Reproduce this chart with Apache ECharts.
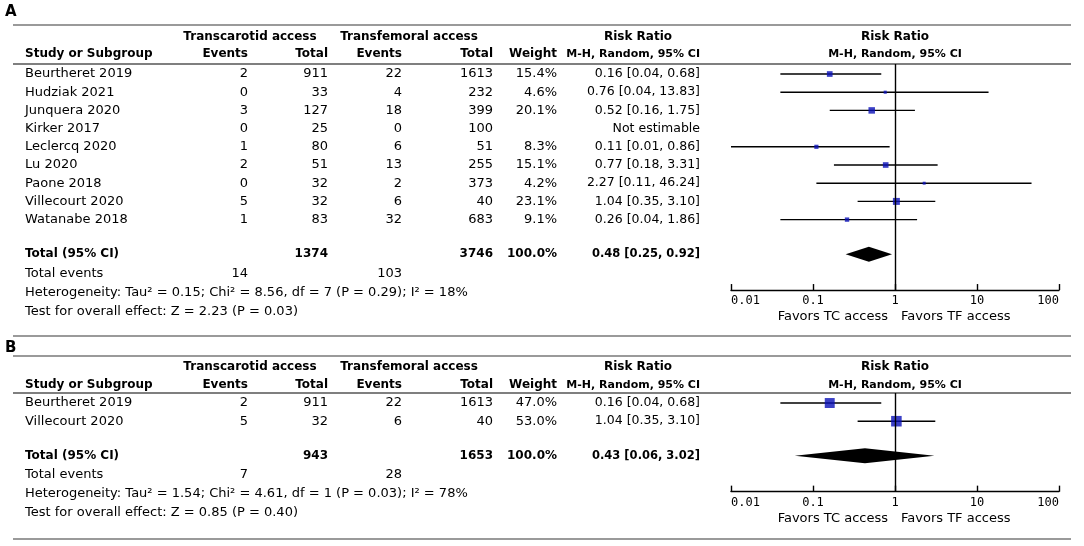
<!DOCTYPE html>
<html>
<head>
<meta charset="utf-8">
<script src="https://cdn.jsdelivr.net/npm/echarts@6/dist/echarts.min.js"></script>
<style>
  html, body { margin: 0; padding: 0; background: #fff; }
  #chart { width: 1084px; height: 546px; }
</style>
</head>
<body>
<div id="chart"></div>
<script>
// panel A - all studies
const studiesA = ['Beurtheret 2019', 'Hudziak 2021', 'Junquera 2020', 'Kirker 2017', 'Leclercq 2020', 'Lu 2020', 'Paone 2018', 'Villecourt 2020', 'Watanabe 2018'];
const tcEventsA = [2, 0, 3, 0, 1, 2, 0, 5, 1];
const tcTotalA = [911, 33, 127, 25, 80, 51, 32, 32, 83];
const tfEventsA = [22, 4, 18, 0, 6, 13, 2, 6, 32];
const tfTotalA = [1613, 232, 399, 100, 51, 255, 373, 40, 683];
const weightA = [15.4, 4.6, 20.1, null, 8.3, 15.1, 4.2, 23.1, 9.1];
const rrA = [0.16, 0.76, 0.52, null, 0.11, 0.77, 2.27, 1.04, 0.26];
const lowA = [0.04, 0.04, 0.16, null, 0.01, 0.18, 0.11, 0.35, 0.04];
const highA = [0.68, 13.83, 1.75, null, 0.86, 3.31, 46.24, 3.10, 1.86];
const pooledA = [0.48, 0.25, 0.92];      // rr, low, high
const totalsA = [1374, 3746];
const totalEventsA = [14, 103];
const hetA = 'Heterogeneity: Tau\u00b2 = 0.15; Chi\u00b2 = 8.56, df = 7 (P = 0.29); I\u00b2 = 18%';
const testA = 'Test for overall effect: Z = 2.23 (P = 0.03)';

// panel B - subset
const studiesB = ['Beurtheret 2019', 'Villecourt 2020'];
const tcEventsB = [2, 5];
const tcTotalB = [911, 32];
const tfEventsB = [22, 6];
const tfTotalB = [1613, 40];
const weightB = [47.0, 53.0];
const rrB = [0.16, 1.04];
const lowB = [0.04, 0.35];
const highB = [0.68, 3.10];
const pooledB = [0.43, 0.06, 3.02];
const totalsB = [943, 1653];
const totalEventsB = [7, 28];
const hetB = 'Heterogeneity: Tau\u00b2 = 1.54; Chi\u00b2 = 4.61, df = 1 (P = 0.03); I\u00b2 = 78%';
const testB = 'Test for overall effect: Z = 0.85 (P = 0.40)';

const tickLabels = ['0.01', '0.1', '1', '10', '100'];
const favorsLabels = ['Favors TC access', 'Favors TF access'];

const FONT = 'DejaVu Sans';
const ROW = 18.2;
const Y_MIN = -0.55;
const chart = echarts.init(document.getElementById('chart'));

function ciText(rr, lo, hi) {
  if (rr == null) return 'Not estimable';
  return rr.toFixed(2) + ' [' + lo.toFixed(2) + ', ' + hi.toFixed(2) + ']';
}

function forestSeries(k, rr, lo, hi, wt, pooled) {
  const n = rr.length;
  const ci = [], pts = [];
  rr.forEach((v, i) => {
    if (v == null) return;
    ci.push([lo[i], hi[i], i]);
    pts.push([v, i, wt[i]]);
  });
  return [
    {
      type: 'line', xAxisIndex: k, yAxisIndex: k, data: [], z: 1,
      markLine: {
        silent: true, symbol: 'none', label: { show: false },
        lineStyle: { color: '#000', width: 1.4, type: 'solid' },
        data: [{ xAxis: 1 }]
      }
    },
    {
      type: 'custom', xAxisIndex: k, yAxisIndex: k, data: ci, z: 2,
      encode: { x: [0, 1], y: 2 },
      renderItem: (params, api) => {
        const a = api.coord([api.value(0), api.value(2)]);
        const b = api.coord([api.value(1), api.value(2)]);
        return { type: 'line', shape: { x1: a[0], y1: a[1], x2: b[0], y2: b[1] },
          style: { stroke: '#000', lineWidth: 1.4 } };
      }
    },
    {
      type: 'scatter', xAxisIndex: k, yAxisIndex: k, data: pts, z: 3,
      symbol: 'rect', symbolSize: d => 1.45 * Math.sqrt(d[2]),
      itemStyle: { color: '#0a10b8' }
    },
    {
      type: 'custom', xAxisIndex: k, yAxisIndex: k, z: 3,
      data: [[pooled[1], pooled[0], pooled[2], n - 1 + 1.9]],
      encode: { x: [0, 2], y: 3 },
      renderItem: (params, api) => {
        const y = api.value(3);
        const l = api.coord([api.value(0), y]);
        const c = api.coord([api.value(1), y]);
        const r = api.coord([api.value(2), y]);
        return { type: 'polygon',
          shape: { points: [[l[0], l[1]], [c[0], c[1] - 7.5], [r[0], r[1]], [c[0], c[1] + 7.5]] },
          style: { fill: '#000' } };
      }
    }
  ];
}

function xAxisFor(k) {
  return {
    type: 'log', logBase: 10, gridIndex: k, min: 0.01, max: 100, splitNumber: 4,
    axisLine: { show: true, onZero: false, lineStyle: { color: '#000', width: 1.4 } },
    axisTick: { show: true, inside: true, length: 6, lineStyle: { color: '#000', width: 1.4 } },
    minorTick: { show: false },
    splitLine: { show: false },
    axisLabel: {
      show: true, margin: 5, color: '#000', fontSize: 12, fontFamily: 'DejaVu Sans Mono',
      alignMinLabel: 'left', alignMaxLabel: 'right',
      formatter: v => tickLabels[Math.round(Math.log10(v)) + 2]
    }
  };
}

const nA = studiesA.length, nB = studiesB.length;

chart.setOption({
  animation: false,
  backgroundColor: '#fff',
  grid: [
    { left: 731, width: 328, top: 64, height: (nA - 1 + 3.87 - Y_MIN) * ROW },
    { left: 731, width: 328, top: 393, height: (nB - 1 + 3.87 - Y_MIN) * ROW }
  ],
  xAxis: [xAxisFor(0), xAxisFor(1)],
  yAxis: [
    { type: 'value', gridIndex: 0, inverse: true, min: Y_MIN, max: nA - 1 + 3.87, show: false },
    { type: 'value', gridIndex: 1, inverse: true, min: Y_MIN, max: nB - 1 + 3.87, show: false }
  ],
  series: forestSeries(0, rrA, lowA, highA, weightA, pooledA)
    .concat(forestSeries(1, rrB, lowB, highB, weightB, pooledB))
});

// table text and rules
function txt(x, y, s, align, bold, size) {
  return {
    type: 'text', silent: true,
    style: {
      text: String(s), x: x, y: y,
      textAlign: align || 'left',
      textVerticalAlign: 'middle',
      fontFamily: FONT, fontSize: size || (bold ? 12 : 13), fontWeight: bold ? 'bold' : 'normal',
      fill: '#000'
    }
  };
}
function rule(y, color, w) {
  return { type: 'line', silent: true, shape: { x1: 13, y1: y, x2: 1071, y2: y },
    style: { stroke: color, lineWidth: w } };
}

const COL = { name: 25, tcEv: 248, tcTot: 328, tfEv: 402, tfTot: 493, wt: 557, ci: 700, plot: 895 };

function panelGraphics(k, letter, letterY, topY, h1, h2, bottomY, headRuleY,
  studies, tcEv, tcTot, tfEv, tfTot, wt, rr, lo, hi, pooled, totals, totEv, het, test) {
  const rowY = i => chart.convertToPixel({ yAxisIndex: k }, i);
  const axisY = rowY(studies.length - 1 + 3.87);
  const g = [
    txt(5, letterY, letter, 'left', true, 15),
    rule(topY, '#9a9a9a', 2),
    rule(headRuleY, '#555', 1.5),
    rule(bottomY, '#9a9a9a', 2),
    txt(250, h1, 'Transcarotid access', 'center', true),
    txt(409, h1, 'Transfemoral access', 'center', true),
    txt(638, h1, 'Risk Ratio', 'center', true),
    txt(COL.plot, h1, 'Risk Ratio', 'center', true),
    txt(COL.name, h2, 'Study or Subgroup', 'left', true),
    txt(COL.tcEv, h2, 'Events', 'right', true),
    txt(COL.tcTot, h2, 'Total', 'right', true),
    txt(COL.tfEv, h2, 'Events', 'right', true),
    txt(COL.tfTot, h2, 'Total', 'right', true),
    txt(COL.wt, h2, 'Weight', 'right', true),
    txt(COL.ci, h2, 'M-H, Random, 95% CI', 'right', true, 11),
    txt(COL.plot, h2, 'M-H, Random, 95% CI', 'center', true, 11)
  ];
  studies.forEach((s, i) => {
    const y = rowY(i);
    g.push(txt(COL.name, y, s, 'left'));
    g.push(txt(COL.tcEv, y, tcEv[i], 'right'));
    g.push(txt(COL.tcTot, y, tcTot[i], 'right'));
    g.push(txt(COL.tfEv, y, tfEv[i], 'right'));
    g.push(txt(COL.tfTot, y, tfTot[i], 'right'));
    if (wt[i] != null) g.push(txt(COL.wt, y, wt[i].toFixed(1) + '%', 'right'));
    g.push(txt(COL.ci, y, ciText(rr[i], lo[i], hi[i]), 'right', false, 12.5));
  });
  const n = studies.length;
  const ty = rowY(n - 1 + 1.9);
  g.push(txt(COL.name, ty, 'Total (95% CI)', 'left', true));
  g.push(txt(COL.tcTot, ty, totals[0], 'right', true));
  g.push(txt(COL.tfTot, ty, totals[1], 'right', true));
  g.push(txt(COL.wt, ty, '100.0%', 'right', true));
  g.push(txt(COL.ci, ty, ciText(pooled[0], pooled[1], pooled[2]), 'right', true, 11.5));
  const ey = rowY(n - 1 + 2.95);
  g.push(txt(COL.name, ey, 'Total events', 'left'));
  g.push(txt(COL.tcEv, ey, totEv[0], 'right'));
  g.push(txt(COL.tfEv, ey, totEv[1], 'right'));
  g.push(txt(COL.name, rowY(n - 1 + 4.0), het, 'left'));
  g.push(txt(COL.name, rowY(n - 1 + 5.05), test, 'left'));
  g.push(txt(888, axisY + 27, favorsLabels[0], 'right'));
  g.push(txt(901, axisY + 27, favorsLabels[1], 'left'));
  return g;
}

chart.setOption({
  graphic: {
    elements: panelGraphics(0, 'A', 12, 25, 37, 54, 336, 64,
      studiesA, tcEventsA, tcTotalA, tfEventsA, tfTotalA, weightA, rrA, lowA, highA,
      pooledA, totalsA, totalEventsA, hetA, testA)
      .concat(panelGraphics(1, 'B', 348, 356, 367, 385, 539, 393,
        studiesB, tcEventsB, tcTotalB, tfEventsB, tfTotalB, weightB, rrB, lowB, highB,
        pooledB, totalsB, totalEventsB, hetB, testB))
  }
});
</script>
</body>
</html>
